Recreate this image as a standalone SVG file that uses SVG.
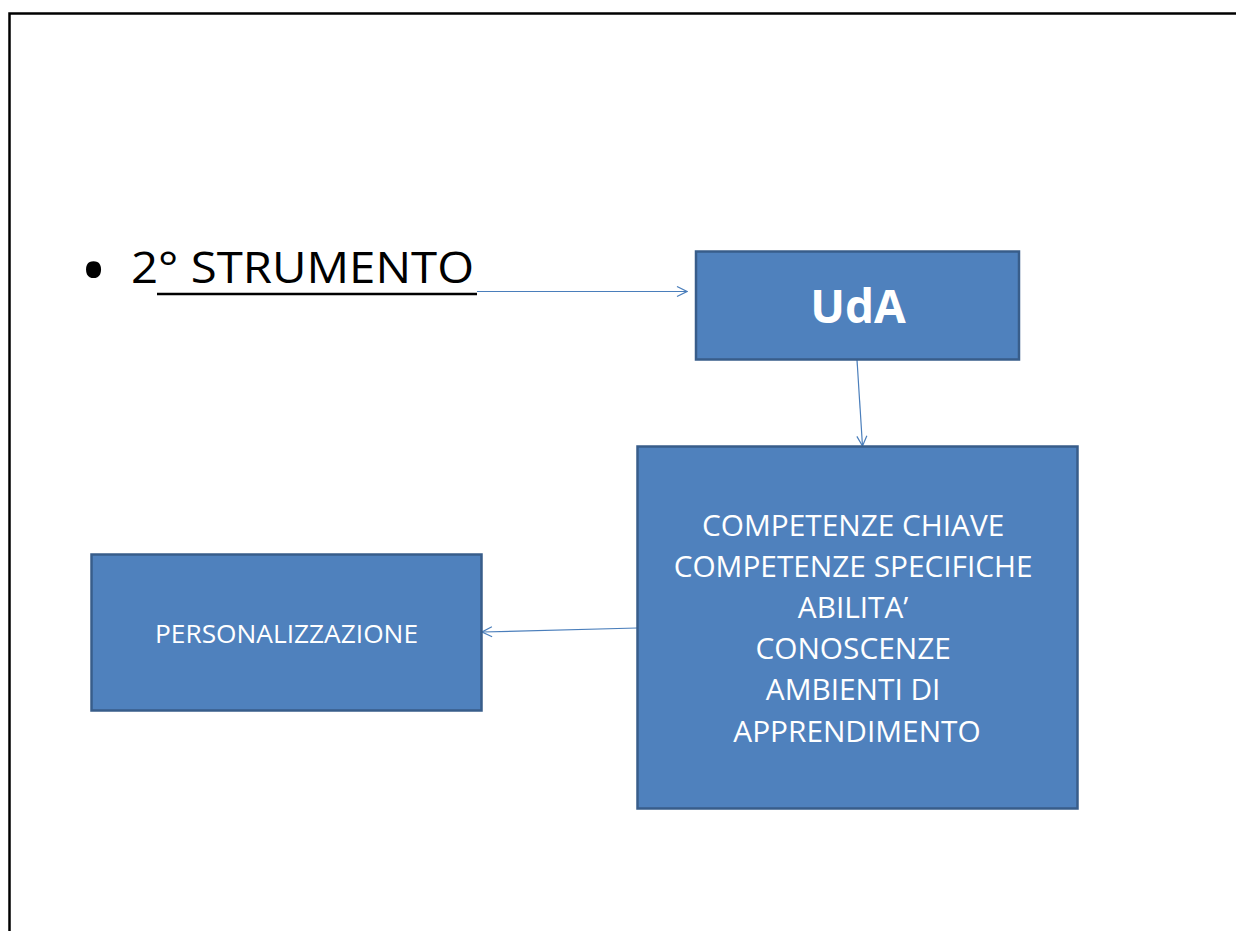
<svg xmlns="http://www.w3.org/2000/svg" width="1236" height="931" viewBox="0 0 1236 931">
<style>
.box{fill:#4F81BD;stroke:#385D8A;stroke-width:2.5}
.lbl{font-family:"Open Sans","Liberation Sans",sans-serif;fill:#FFFFFF;text-anchor:middle}
.conn{stroke:#4A7EBB;stroke-width:1.2;fill:none}
</style>
<defs>
<marker id="arr" viewBox="0 0 12 12" refX="11" refY="6" markerWidth="12" markerHeight="12" markerUnits="userSpaceOnUse" orient="auto">
<path d="M1,1 L11,6 L1,11" fill="none" stroke="#4A7EBB" stroke-width="1.2"/>
</marker>
</defs>
<rect width="1236" height="931" fill="#FFFFFF"/>
<path d="M9.5,931 L9.5,13.5 L1236,13.5" fill="none" stroke="#000000" stroke-width="2.5"/>
<g id="title">
<text x="80" y="296" font-family="'Open Sans','Liberation Sans',sans-serif" font-size="72" fill="#000000">•</text>
<text x="131" y="283" font-family="'Open Sans','Liberation Sans',sans-serif" font-size="44" fill="#000000" textLength="343" lengthAdjust="spacingAndGlyphs">2° STRUMENTO</text>
<line x1="157" y1="294" x2="477" y2="294" stroke="#000000" stroke-width="2.5"/>
</g>
<g id="connectors">
<line class="conn" x1="477" y1="291.5" x2="687" y2="291.5" marker-end="url(#arr)"/>
<line class="conn" x1="857" y1="360" x2="862.5" y2="446" marker-end="url(#arr)"/>
<line class="conn" x1="637" y1="628" x2="482" y2="632" marker-end="url(#arr)"/>
</g>
<g id="uda">
<rect class="box" x="696" y="251.5" width="323" height="108"/>
<text class="lbl" x="858" y="323" font-size="46" font-weight="bold">UdA</text>
</g>
<g id="competenze">
<rect class="box" x="637.5" y="446.5" width="440" height="362"/>
<text class="lbl" font-size="29.8">
<tspan x="857" y="536">COMPETENZE CHIAVE</tspan>
<tspan x="857" y="577">COMPETENZE SPECIFICHE</tspan>
<tspan x="857" y="618">ABILITA’</tspan>
<tspan x="857" y="659">CONOSCENZE</tspan>
<tspan x="857" y="700">AMBIENTI DI</tspan>
<tspan x="857" y="742">APPRENDIMENTO</tspan>
</text>
</g>
<g id="personalizzazione">
<rect class="box" x="91.5" y="554.5" width="390" height="156"/>
<text class="lbl" x="286.5" y="643" font-size="26.3">PERSONALIZZAZIONE</text>
</g>
</svg>
